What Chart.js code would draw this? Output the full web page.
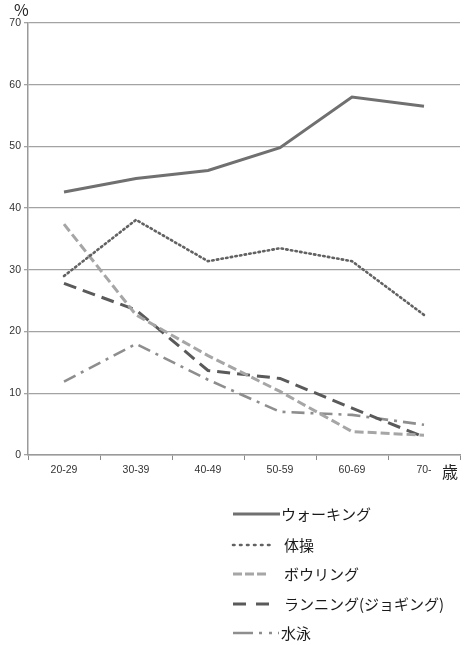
<!DOCTYPE html>
<html><head><meta charset="utf-8">
<script src="https://cdn.jsdelivr.net/npm/chart.js@4/dist/chart.umd.min.js"></script>
<style>html,body{margin:0;padding:0;background:#fff;}#wrap{width:464px;height:645px;position:relative;}</style>
</head><body><div id="wrap"><canvas id="c" width="464" height="645"></canvas></div>
<script>
const categories = ["20-29","30-39","40-49","50-59","60-69","70-"];
const seriesNames = ["ウォーキング","体操","ボウリング","ランニング(ジョギング)","水泳"];
const walking  = [42.6, 44.8, 46.1, 49.8, 58.0, 56.5];
const taiso    = [29.0, 38.1, 31.4, 33.5, 31.4, 22.7];
const bowling  = [37.4, 22.7, 16.1, 10.3, 3.8, 3.2];
const running  = [27.8, 23.5, 13.7, 12.4, 7.6, 2.9];
const swimming = [11.9, 18.0, 12.2, 7.0, 6.5, 4.9];
const yTicks = [0,10,20,30,40,50,60,70];

const FONT = "'Liberation Sans','DejaVu Sans',sans-serif";
const JFONT = "'Noto Sans CJK JP','Noto Sans',sans-serif";

const styles = [
  {color:'#707070', width:3, dash:[], cap:'butt', legendDash:[], lx2:280},
  {color:'#626262', width:2.6, dash:[1.5,3.2], cap:'round', legendDash:[1.5,5.5], lx2:272},
  {color:'#a6a6a6', width:3, dash:[9,4], cap:'butt', legendDash:[9,3], lx2:268},
  {color:'#5a5a5a', width:3, dash:[13,7], cap:'butt', legendDash:[13,10], lx2:269},
  {color:'#8e8e8e', width:2.6, dash:[13,6,3,6], cap:'butt', legendDash:[20,6,3,7,3,6], lx2:279}
];
const values = [walking, taiso, bowling, running, swimming];

const datasets = values.map((v,i)=>({
  label: seriesNames[i], data: v,
  borderColor: styles[i].color, backgroundColor: styles[i].color,
  borderWidth: styles[i].width, borderDash: styles[i].dash,
  borderCapStyle: styles[i].cap,
  pointRadius: 0, tension: 0, fill: false
}));

const extras = {
  id: 'extras',
  afterDraw(chart){
    const ctx = chart.ctx;
    ctx.save();
    ctx.fillStyle = '#222';
    ctx.font = "16px " + JFONT;
    ctx.textBaseline = 'middle';
    ctx.textAlign = 'left';
    ctx.fillText('%', 14, 10);
    ctx.fillText('歳', 442, 472);
    // legend
    const rows = [514, 545, 574, 604, 633];
    const textX = [281, 284, 284, 284, 281];
    chart.data.datasets.forEach((ds, i) => {
      const y = rows[i];
      ctx.beginPath();
      ctx.strokeStyle = styles[i].color;
      ctx.lineWidth = styles[i].width;
      ctx.lineCap = styles[i].cap;
      ctx.setLineDash(styles[i].legendDash);
      ctx.moveTo(233, y);
      ctx.lineTo(styles[i].lx2, y);
      ctx.stroke();
      ctx.setLineDash([]);
      ctx.fillStyle = '#1a1a1a';
      ctx.font = "15px " + JFONT;
      ctx.fillText(ds.label, textX[i], y);
    });
    ctx.restore();
  }
};

new Chart(document.getElementById('c'), {
  type: 'line',
  data: { labels: categories, datasets },
  options: {
    responsive: false, animation: false, devicePixelRatio: 1,
    layout: { padding: { top: 23, right: 4, left: 0, bottom: 0 } },
    plugins: { legend: { display: false }, tooltip: { enabled: false } },
    scales: {
      x: {
        offset: true,
        grid: { display: true, drawOnChartArea: false, offset: true, color: '#8a8a8a', tickLength: 5, lineWidth: 1 },
        border: { display: true, color: '#9a9a9a', width: 1.5 },
        ticks: { color: '#333', font: { size: 10.5, family: FONT }, padding: 4, maxRotation: 0 },
        afterFit(s){ s.height = 190; }
      },
      y: {
        min: 0, max: 70,
        afterBuildTicks(s){ s.ticks = yTicks.map(v=>({value:v})); },
        grid: { color: '#a3a3a3', lineWidth: 1.3, tickLength: 4 },
        border: { display: true, color: '#9a9a9a', width: 1.5 },
        ticks: { color: '#333', font: { size: 10.5, family: FONT }, padding: 3 },
        afterFit(s){ s.width = 28; }
      }
    }
  },
  plugins: [extras]
});
</script>
</body></html>
